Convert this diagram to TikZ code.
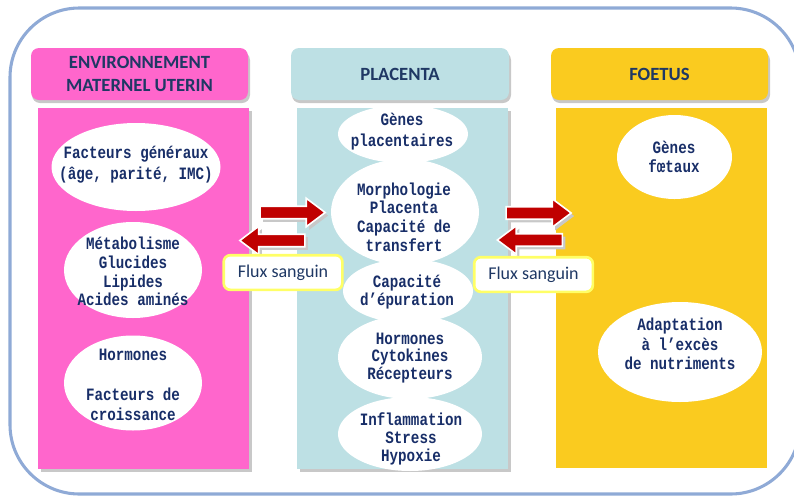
\documentclass[tikz,border=0pt]{standalone}
\usepackage{fontspec}
\newfontfamily\headfont{Carlito}
\newfontfamily\bubfont[FakeStretch=0.82]{Liberation Mono}
\usetikzlibrary{shapes.arrows}

\definecolor{pinkc}{RGB}{255,102,204}
\definecolor{tealc}{RGB}{189,224,228}
\definecolor{yellowc}{RGB}{250,203,31}
\definecolor{navyc}{RGB}{31,56,100}
\definecolor{bubtxt}{RGB}{24,46,104}
\definecolor{framec}{RGB}{143,170,214}
\definecolor{arrowc}{RGB}{192,0,0}
\definecolor{fluxc}{RGB}{255,255,102}
\definecolor{shadowc}{RGB}{200,200,200}

\tikzset{every picture/.style={line width=0.75pt}}
\tikzset{
  headbox/.style={rounded corners=6pt, inner sep=0pt, align=center, text=navyc,
    minimum width=162.75pt, minimum height=39pt,
    font=\headfont\bfseries\fontsize{14}{17}\selectfont},
  headshadow/.style={fill=shadowc, rounded corners=6pt},
  bubtext/.style={align=center, inner sep=0.75pt, text=bubtxt,
    font=\bubfont\bfseries\fontsize{13}{14}\selectfont},
  flow/.style={single arrow, fill=arrowc, draw=white, line width=1.2pt,
    inner xsep=0pt, inner ysep=4.1pt, single arrow head extend=6pt,
    single arrow tip angle=74, minimum height=48.75pt},
  flowshadow/.style={flow, fill=shadowc, draw=none},
  fluxbox/.style={draw=fluxc, line width=2pt, fill=white, rounded corners=5pt,
    minimum width=89pt, minimum height=26pt, inner sep=0pt, text=navyc,
    font=\headfont\fontsize{13.5}{16}\selectfont}
}

\begin{document}
\begin{tikzpicture}[x=0.75pt,y=0.75pt,yscale=-1,xscale=1]
\useasboundingbox (0,0) rectangle (794,497);

%Shape: Rounded Rectangle
\draw [color=framec, line width=2.3pt, rounded corners=52pt] (10,8) rectangle (800,494);

%Shape: Rectangle
\fill [shadowc] (41,111) rectangle (252,471.5);
\fill [pinkc] (38,108) rectangle (249,469);
%Shape: Rectangle
\fill [shadowc] (300,111) rectangle (511,471.5);
\fill [tealc] (297,108) rectangle (508,469);
%Shape: Rectangle
\fill [yellowc] (556,108) rectangle (767,468);

% Header Nodes
\fill [headshadow] (32,52) rectangle (250,103);
\node [headbox, fill=pinkc] (envhead) at (139.5,74) {ENVIRONNEMENT\\MATERNEL UTERIN};
\fill [headshadow] (292,52) rectangle (511,103);
\node [headbox, fill=tealc, minimum width=163.5pt] (plahead) at (400,74) {PLACENTA};
\fill [headshadow] (552,52) rectangle (770,103);
\node [headbox, fill=yellowc] (foehead) at (659.5,74) {FOETUS};

%Shape: Ellipse
\fill [white] (136,167) ellipse [x radius=84.5, y radius=44];
\fill [white] (133,270) ellipse [x radius=69, y radius=48];
\fill [white] (133,383) ellipse [x radius=69, y radius=47.5];
%Shape: Ellipse
\fill [white] (403,134) ellipse [x radius=65, y radius=29];
\fill [white] (405,212) ellipse [x radius=74, y radius=53];
\fill [white] (408,291) ellipse [x radius=65, y radius=32];
\fill [white] (410,357) ellipse [x radius=72, y radius=42];
\fill [white] (410,434) ellipse [x radius=72, y radius=37];
%Shape: Ellipse
\fill [white] (674.5,157) ellipse [x radius=57.5, y radius=42];
\fill [white] (680,352) ellipse [x radius=82, y radius=50];

% Text Node
\node [bubtext, font=\bubfont\bfseries\fontsize{13}{15.75}\selectfont] (facteurs) at (136,165) {Facteurs généraux\\(âge, parité, IMC)};
% Text Node
\node [bubtext] (metab) at (133,271.5) {Métabolisme\\Glucides\\Lipides\\Acides aminés};
% Text Node
\node [bubtext, font=\bubfont\bfseries\fontsize{13}{15}\selectfont] (hormmat) at (133,384.5) {Hormones\\[15pt]Facteurs de\\croissance};
% Text Node
\node [bubtext, font=\bubfont\bfseries\fontsize{13}{15.75}\selectfont] (genpla) at (402,132) {Gènes\\placentaires};
% Text Node
\node [bubtext] (morpho) at (404,217) {Morphologie\\Placenta\\Capacité de\\transfert};
% Text Node
\node [bubtext, font=\bubfont\bfseries\fontsize{13}{13}\selectfont] (epur) at (407,292) {Capacité\\d’épuration};
% Text Node
\node [bubtext, font=\bubfont\bfseries\fontsize{13}{13.25}\selectfont] (hormpla) at (410,358) {Hormones\\Cytokines\\Récepteurs};
% Text Node
\node [bubtext, font=\bubfont\bfseries\fontsize{13}{13.5}\selectfont] (inflam) at (411,439) {Inflammation\\Stress\\Hypoxie};
% Text Node
\node [bubtext] (genfoe) at (674,157) {Gènes\\fœtaux};
% Text Node
\node [bubtext, font=\bubfont\bfseries\fontsize{13}{14.6}\selectfont] (adapt) at (680,344) {Adaptation\\à l’excès\\de nutriments};

% Arrows
\node [flowshadow] (toplaRsh) at (291.5,215.5) {};
\node [flow] (toplaR) at (288.5,212.5) {};
\node [flowshadow, shape border rotate=180] (tomatLsh) at (279.5,243.5) {};
\node [flow, shape border rotate=180] (tomatL) at (276.5,240.5) {};
\node [flowshadow] (tofoeRsh) at (537.5,216) {};
\node [flow] (tofoeR) at (534.5,213) {};
\node [flowshadow, shape border rotate=180] (toplaLsh) at (537,243) {};
\node [flow, shape border rotate=180] (toplaL) at (534,240) {};

% Text Node
\node [fluxbox] (fluxmat) at (283,272.5) {Flux sanguin};
% Text Node
\node [fluxbox] (fluxfoe) at (533.5,274.5) {Flux sanguin};
\end{tikzpicture}
\end{document}
